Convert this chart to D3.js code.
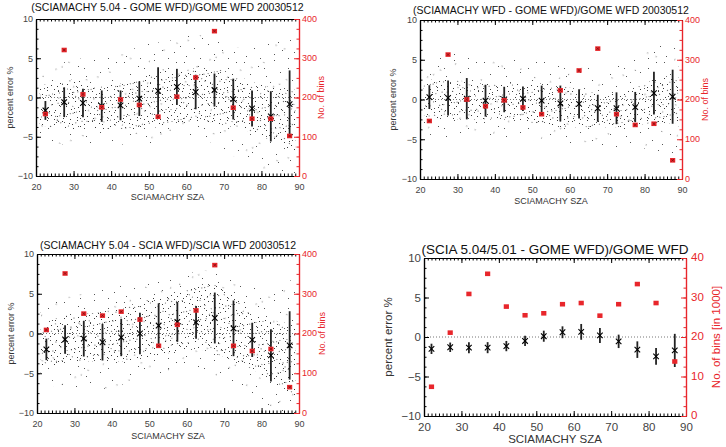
<!DOCTYPE html>
<html lang="en">
<head>
<meta charset="UTF-8">
<title>SCIAMACHY vs GOME WFD percent error</title>
<script src="https://d3js.org/d3.v7.min.js"></script>
<style>
  body { margin: 0; background: #fff; font-family: "Liberation Sans", Arial, sans-serif; }
  svg { display: block; }
  .tick text { fill: #444; }
</style>
</head>
<body>
<svg id="chart" width="726" height="447"></svg>
<script>
// bin centres
const szaBins = [22.5, 27.5, 32.5, 37.5, 42.5, 47.5, 52.5, 57.5, 62.5, 67.5, 72.5, 77.5, 82.5, 87.5];
const szaBins4 = [22, 27, 32, 37, 42, 47, 52, 57, 62, 67, 72, 77, 82, 87];

// mean percent error and its spread per bin
const p1Mean = [-1.65, -0.6, -0.7, -1.1, -1.0, -0.15, 0.85, 1.35, 0.7, 0.95, -0.2, -1.4, -2.4, -0.85];
const p1Sd   = [1.2, 1.9, 1.8, 2.0, 1.9, 2.2, 3.0, 2.3, 2.2, 2.1, 2.6, 2.3, 3.2, 4.3];
const p2Mean = [0.3, 0.2, 0.1, -0.15, 0, 0.1, -0.15, -0.5, -0.55, -1.1, -1.1, -0.95, 0.8, 0.35];
const p2Sd   = [1.5, 2.2, 2.6, 2.0, 1.6, 1.55, 1.9, 2.25, 1.85, 1.7, 2.0, 1.9, 2.7, 3.4];
const p3Mean = [-2.0, -0.75, -0.65, -1.1, -0.5, 0, 1.0, 1.45, 1.4, 1.95, 0.65, -0.8, -2.75, -1.5];
const p3Sd   = [1.35, 1.8, 2.25, 2.3, 2.35, 2.6, 2.8, 2.5, 2.05, 3.2, 3.5, 2.15, 3.3, 4.3];
const p4Mean = [-1.5, -1.3, -1.35, -1.35, -1.15, -0.5, 0.1, 0.6, 0.65, 0.2, -0.55, -1.6, -2.45, -1.7];
const p4Sd   = [0.65, 0.6, 0.7, 0.7, 0.65, 0.65, 0.7, 0.75, 1.0, 0.95, 0.85, 1.05, 1.05, 2.1];

// number of points per bin (right axis)
const p1Count = [158, 321, 208, 175, 195, 181, 151, 202, 251, 369, 174, 146, 146, 102];
const p2Count = [146, 313, 200, 183, 198, 180, 163, 223, 273, 328, 163, 136, 139, 47];
const p3Count = [209, 351, 250, 245, 255, 235, 169, 222, 258, 372, 169, 156, 161, 65];
const p4Count = [7.4, 21.1, 30.9, 36.0, 27.7, 25.5, 26.0, 28.3, 28.6, 25.4, 28.3, 33.4, 28.6, 13.8]; // thousands

// envelope of the individual-pixel scatter cloud
const cloudSza = [21, 25, 30, 35, 40, 45, 50, 55, 60, 65, 70, 75, 80, 85, 89];
const p1CoreHi  = [1.5, 2, 2.5, 1.5, 1.5, 2, 3, 3.5, 3.5, 4, 3.5, 2.5, 1.5, 1, 1];
const p1CoreLo  = [-3.5, -4, -4, -4, -4, -4, -4, -3.5, -3, -3, -3.5, -4, -5, -6, -7];
const p1OuterHi = [3, 4, 5, 5, 5, 6, 7, 7, 8, 8, 7, 6, 7, 8, 8];
const p1OuterLo = [-5, -6, -6, -6, -6, -6, -6, -5.5, -5, -5, -7, -8, -9, -10, -10];
const p2CoreHi  = [2.5, 2.5, 2.5, 2, 2, 2, 2, 2, 1.5, 1, 0.5, 1, 2, 3, 3];
const p2CoreLo  = [-2, -2.5, -2.5, -2.5, -2.5, -2.5, -3, -3.5, -3.5, -3.5, -3.5, -3.5, -3, -3, -3];
const p2OuterHi = [4, 6, 6, 5, 5, 5, 5, 5, 4, 4, 4, 5, 6, 7, 7];
const p2OuterLo = [-4, -5, -5, -5, -5, -5, -5, -5.5, -6, -6, -6, -6, -6, -7, -7];
const p3CoreHi  = [1, 2, 2.5, 2.5, 3, 3.5, 4.5, 5, 5.5, 6.5, 6, 3.5, 2, 1.5, 1];
const p3CoreLo  = [-4, -4, -3.5, -3.5, -3.5, -3.5, -3, -2.5, -2, -2, -3, -4, -5, -7, -8];
const p3OuterHi = [3, 4, 5, 5, 6, 6, 6.5, 7, 7.5, 8, 8, 7, 5, 6, 7];
const p3OuterLo = [-6, -7, -7, -7, -7, -6, -5, -5, -4.5, -5, -6, -7, -9, -10, -10];

const xTicks = [20, 30, 40, 50, 60, 70, 80, 90];
const yTicks = [-10, -5, 0, 5, 10];
const countTicks = [0, 100, 200, 300, 400];
const countTicks4 = [0, 10, 20, 30, 40];

const RED = "#e8262b";
const svg = d3.select("#chart");

// stipple texture for the scatter cloud (irregular tile, used twice with a rotation)
const stipple = [[2,1],[9,3],[17,0],[24,4],[28,1],[5,7],[13,8],[20,6],[26,10],[1,12],[8,13],[15,11],
  [22,14],[29,15],[4,18],[11,19],[18,17],[25,20],[0,23],[7,24],[14,22],[21,25],[27,26],[3,28],
  [10,29],[17,27],[24,29],[12,4],[6,16],[19,21]];
const defs = svg.append("defs");
function dotPattern(id, scale, every, fill, rot) {
  const p = defs.append("pattern").attr("id", id)
    .attr("patternUnits", "userSpaceOnUse")
    .attr("width", 30 * scale).attr("height", 30 * scale)
    .attr("patternTransform", `rotate(${rot})`);
  stipple.filter((d, i) => i % every === 0).forEach(d => p.append("rect")
    .attr("x", d[0] * scale).attr("y", d[1] * scale)
    .attr("width", 1).attr("height", 1).attr("fill", fill));
}
dotPattern("coreA", 1, 1, "#3a3a3a", 0);
dotPattern("coreB", 1, 2, "#666", 37);
dotPattern("outerA", 2, 1, "#555", 0);
dotPattern("outerB", 2.3, 2, "#777", 23);

function drawPanel(c) {
  const g = svg.append("g");
  const x = d3.scaleLinear().domain([20, 90]).range([c.left, c.right]);
  const y = d3.scaleLinear().domain([-10, 10]).range([c.bottom, c.top]);
  const y2 = d3.scaleLinear().domain(c.countDomain).range([c.bottom, c.top]);
  const fs = c.font;

  // scatter cloud
  if (c.cloud) {
    const area = lo => d3.area().x((d, i) => x(cloudSza[i])).y0((d, i) => y(lo[i])).y1(d => y(d)).curve(d3.curveBasis);
    ["outerA", "outerB"].forEach(id =>
      g.append("path").datum(c.cloud.outerHi).attr("d", area(c.cloud.outerLo)).attr("fill", `url(#${id})`));
    ["coreA", "coreB"].forEach(id =>
      g.append("path").datum(c.cloud.coreHi).attr("d", area(c.cloud.coreLo)).attr("fill", `url(#${id})`));
  }

  // zero line
  g.append("line").attr("x1", x(20)).attr("x2", x(90)).attr("y1", y(0)).attr("y2", y(0))
    .attr("stroke", "#777").attr("stroke-dasharray", "1,2").attr("stroke-width", 1);

  // axes
  const xMinor = d3.range(20, 91, 1);
  const yMinor = d3.range(-10, 10.01, 1.25);
  const cd = c.countDomain[1];
  const cMinor = d3.range(0, cd + 0.001, cd / 16);

  g.append("g").attr("transform", `translate(0,${c.bottom})`)
    .call(d3.axisBottom(x).tickValues(xMinor).tickSize(-2.5).tickFormat("").tickSizeOuter(0));
  g.append("g").attr("transform", `translate(0,${c.bottom})`)
    .call(d3.axisBottom(x).tickValues(xTicks).tickSize(-5).tickPadding(c.xPad).tickSizeOuter(0))
    .call(a => a.selectAll("text").style("font-size", fs + "px"));
  g.append("g").attr("transform", `translate(0,${c.top})`)
    .call(d3.axisTop(x).tickValues(xMinor).tickSize(-2.5).tickFormat("").tickSizeOuter(0));
  g.append("g").attr("transform", `translate(0,${c.top})`)
    .call(d3.axisTop(x).tickValues(xTicks).tickSize(-5).tickFormat("").tickSizeOuter(0));
  g.append("g").attr("transform", `translate(${c.left},0)`)
    .call(d3.axisLeft(y).tickValues(yMinor).tickSize(-2.5).tickFormat("").tickSizeOuter(0));
  g.append("g").attr("transform", `translate(${c.left},0)`)
    .call(d3.axisLeft(y).tickValues(yTicks).tickSize(-5).tickPadding(3).tickSizeOuter(0))
    .call(a => a.selectAll("text").style("font-size", fs + "px"));
  const r1 = g.append("g").attr("transform", `translate(${c.right},0)`)
    .call(d3.axisRight(y2).tickValues(cMinor).tickSize(-2.5).tickFormat("").tickSizeOuter(0));
  const r2 = g.append("g").attr("transform", `translate(${c.right},0)`)
    .call(d3.axisRight(y2).tickValues(c.countTicks).tickSize(-5).tickPadding(c.rPad).tickSizeOuter(0))
    .call(a => a.selectAll("text").style("font-size", fs + "px").style("fill", RED).attr("dy", "0.25em"));
  g.selectAll(".domain").attr("stroke", "#000").attr("stroke-width", 1.2);
  g.selectAll(".tick line").attr("stroke", "#000");
  [r1, r2].forEach(r => {
    r.select(".domain").attr("stroke", RED);
    r.selectAll(".tick line").attr("stroke", RED);
  });

  // error bars and means
  const bins = c.sza.map((s, i) => ({ s, m: c.mean[i], sd: c.sd[i], n: c.count[i] }));
  g.selectAll(".err").data(bins).join("line")
    .attr("x1", d => x(d.s)).attr("x2", d => x(d.s))
    .attr("y1", d => y(d.m - d.sd)).attr("y2", d => y(d.m + d.sd))
    .attr("stroke", "#222").attr("stroke-width", 1.8);
  g.selectAll(".mean").data(bins).join("path")
    .attr("transform", d => `translate(${x(d.s)},${y(d.m)})`)
    .attr("d", d3.symbol(d3.symbolX, 22))
    .attr("stroke", "#000").attr("stroke-width", 1.1).attr("fill", "none");

  // bin counts
  g.selectAll(".cnt").data(bins).join("rect")
    .attr("x", d => x(d.s) - 2.6).attr("y", d => y2(d.n) - 2.3)
    .attr("width", 5.2).attr("height", 4.6).attr("fill", RED);
  if (c.cloud) {
    g.selectAll(".cntx").data(bins).join("path")
      .attr("transform", d => `translate(${x(d.s)},${y2(d.n)})`)
      .attr("d", d3.symbol(d3.symbolX, 5))
      .attr("stroke", "#7a1010").attr("stroke-width", 0.8);
  }

  // labels
  g.append("text").attr("x", (c.left + c.right) / 2).attr("y", c.titleY)
    .attr("text-anchor", "middle").style("font-size", c.titleFont + "px").attr("fill", "#111")
    .text(c.title);
  g.append("text").attr("x", (c.left + c.right) / 2).attr("y", c.xLabelY)
    .attr("text-anchor", "middle").style("font-size", c.labelFont + "px").attr("fill", "#333")
    .text("SCIAMACHY SZA");
  g.append("text").attr("transform", `translate(${c.yLabelX},${(c.top + c.bottom) / 2}) rotate(-90)`)
    .attr("text-anchor", "middle").style("font-size", c.labelFont + "px").attr("fill", "#333")
    .text("percent error %");
  g.append("text").attr("transform", `translate(${c.y2LabelX},${(c.top + c.bottom) / 2}) rotate(-90)`)
    .attr("text-anchor", "middle").style("font-size", c.labelFont + "px").attr("fill", RED)
    .text(c.countLabel);
}

drawPanel({
  left: 36, right: 299, top: 19, bottom: 176, font: 9, titleFont: 10.5, labelFont: 9, xPad: 8, rPad: 3,
  titleY: 11, xLabelY: 200, yLabelX: 13, y2LabelX: 324,
  title: "(SCIAMACHY 5.04 - GOME WFD)/GOME WFD 20030512",
  sza: szaBins, mean: p1Mean, sd: p1Sd, count: p1Count,
  countDomain: [0, 400], countTicks: countTicks, countLabel: "No. of bins",
  cloud: { coreHi: p1CoreHi, coreLo: p1CoreLo, outerHi: p1OuterHi, outerLo: p1OuterLo }
});
drawPanel({
  left: 420, right: 682, top: 20, bottom: 179, font: 9, titleFont: 10.5, labelFont: 9, xPad: 8, rPad: 3,
  titleY: 14, xLabelY: 204, yLabelX: 396, y2LabelX: 708,
  title: "(SCIAMACHY WFD - GOME WFD)/GOME WFD 20030512",
  sza: szaBins, mean: p2Mean, sd: p2Sd, count: p2Count,
  countDomain: [0, 400], countTicks: countTicks, countLabel: "No. of bins",
  cloud: { coreHi: p2CoreHi, coreLo: p2CoreLo, outerHi: p2OuterHi, outerLo: p2OuterLo }
});
drawPanel({
  left: 37, right: 299, top: 254, bottom: 413, font: 9, titleFont: 10.5, labelFont: 9, xPad: 8, rPad: 3,
  titleY: 249, xLabelY: 439, yLabelX: 14, y2LabelX: 325,
  title: "(SCIAMACHY 5.04 - SCIA WFD)/SCIA WFD 20030512",
  sza: szaBins, mean: p3Mean, sd: p3Sd, count: p3Count,
  countDomain: [0, 400], countTicks: countTicks, countLabel: "No. of bins",
  cloud: { coreHi: p3CoreHi, coreLo: p3CoreLo, outerHi: p3OuterHi, outerLo: p3OuterLo }
});
drawPanel({
  left: 424, right: 686, top: 258, bottom: 416, font: 11.5, titleFont: 13.5, labelFont: 11.5, xPad: 7, rPad: 5,
  titleY: 254, xLabelY: 443, yLabelX: 392, y2LabelX: 720,
  title: "(SCIA 5.04/5.01 - GOME WFD)/GOME WFD",
  sza: szaBins4, mean: p4Mean, sd: p4Sd, count: p4Count,
  countDomain: [0, 40], countTicks: countTicks4, countLabel: "No. of bins [in 1000]",
  cloud: null
});
</script>
</body>
</html>
